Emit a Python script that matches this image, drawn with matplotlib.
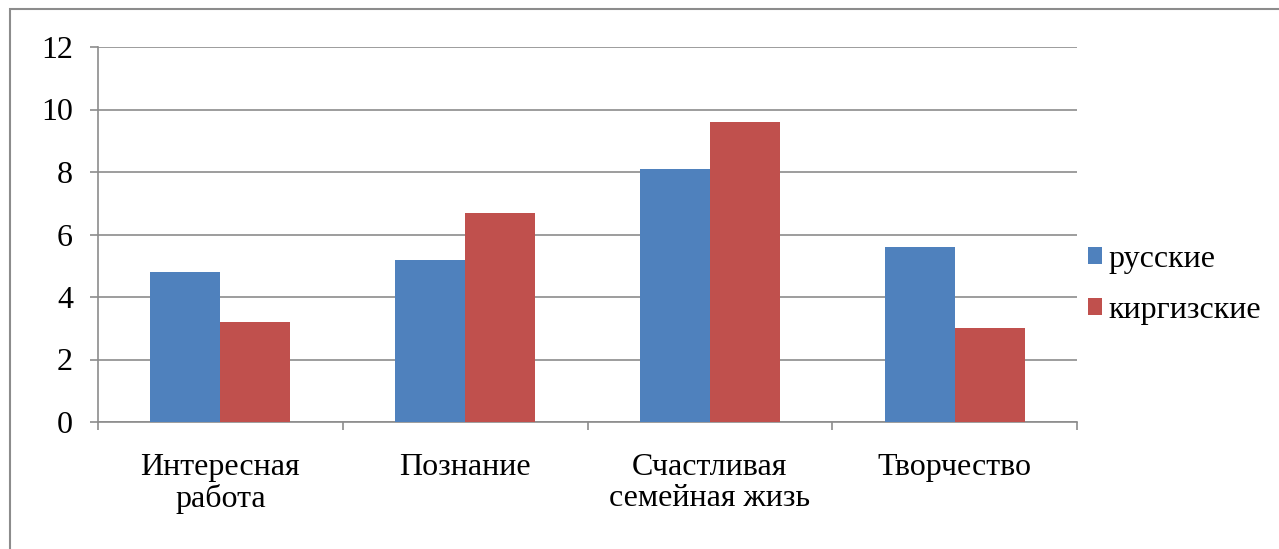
import numpy as np
import matplotlib.pyplot as plt
from matplotlib.patches import Rectangle

categorias = ["Интересная\nработа", "Познание", "Счастливая\nсемейная жизь", "Творчество"]
russkie = [4.8, 5.2, 8.1, 5.6]
kirgizskie = [3.2, 6.7, 9.6, 3.0]
series_names = ["русские", "киргизские"]

plt.rcParams['font.family'] = ['Liberation Serif', 'DejaVu Serif']

fig = plt.figure(figsize=(12.79, 5.49), dpi=100)
W, H = 1279, 549
ax = fig.add_axes([98 / W, 1 - 422 / H, (1077 - 98) / W, (422 - 47) / H])

# marco del gráfico (se corta a la derecha y abajo)
fig.patches.append(Rectangle((10 / W, -0.1), 1.2, 1 - 9 / H + 0.1,
                             transform=fig.transFigure, fill=False,
                             edgecolor='#8c8c8c', linewidth=1.5))

x = np.arange(len(categorias))
ancho = 0.286
ax.bar(x - ancho / 2, russkie, ancho, color='#4f81bd', label=series_names[0], zorder=3)
ax.bar(x + ancho / 2, kirgizskie, ancho, color='#c0504d', label=series_names[1], zorder=3)

ax.set_xlim(-0.5, len(categorias) - 0.5)
ax.set_ylim(0, 12)
ax.set_yticks(range(0, 13, 2))
ax.yaxis.grid(True, color='#8c8c8c', linewidth=1.2, zorder=0)

ax.set_xticks(np.arange(-0.5, len(categorias), 1))
ax.set_xticklabels([])
ax.set_xticks(x, minor=True)
ax.set_xticklabels(categorias, minor=True, fontsize=23, linespacing=1.12)
ax.tick_params(axis='x', which='minor', length=0, pad=22)
ax.tick_params(axis='x', which='major', length=6, color='#8c8c8c', width=1.2)
ax.tick_params(axis='y', length=6, color='#8c8c8c', width=1.2, labelsize=23, pad=12)

for lado in ['top', 'right']:
    ax.spines[lado].set_visible(False)
for lado in ['left', 'bottom']:
    ax.spines[lado].set_color('#8c8c8c')
    ax.spines[lado].set_linewidth(1.2)

ax.legend(loc='center left', bbox_to_anchor=(1.011, 0.365), frameon=False, fontsize=23,
          handlelength=0.44, handleheight=0.44, handletextpad=0.2, labelspacing=0.68,
          borderaxespad=0, borderpad=0)

fig.savefig("out.png", dpi=100)
